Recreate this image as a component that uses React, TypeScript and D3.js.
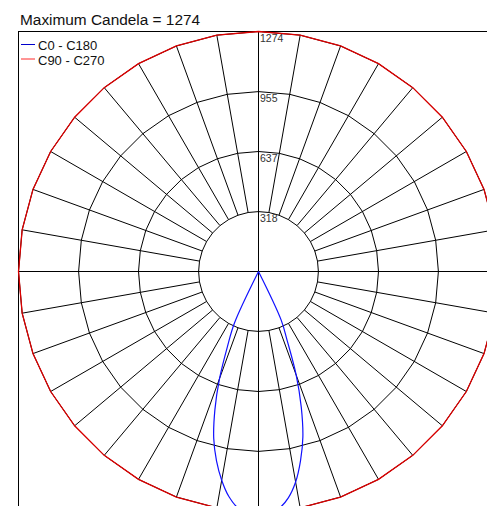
import React from "react";
import * as d3 from "d3";

const MAX_CANDELA = 1274;
const RING_TICKS = [318, 637, 955, 1274];

// C0 - C180 plane, gamma angles (deg from nadir), step 2.5
const GAMMA_C0 = [0, 2.5, 5, 7.5, 10, 12.5, 15, 17.5, 20, 22.5, 25, 27.5, 30, 32.5, 35, 37.5, 40];
const VALUES_C0 = [1274, 1269, 1260, 1212, 1135, 1030, 910, 755, 585, 400, 285, 0, 0, 0, 0, 0, 0];
const VALUES_C180 = [1274, 1269, 1258, 1205, 1125, 1030, 918, 770, 605, 430, 303, 0, 0, 0, 0, 0, 0];

// C90 - C270 plane, gamma angles step 10
const GAMMA_C90 = [0, 10, 20, 30, 40, 50, 60, 70, 80, 90, 100, 110, 120, 130, 140, 150, 160, 170, 180];
const VALUES_C90 = [1274, 1274, 1274, 1274, 1274, 1274, 1274, 1274, 1274, 1274, 1274, 1274, 1274, 1274, 1274, 1274, 1274, 1274, 1274];
const VALUES_C270 = [1274, 1274, 1274, 1274, 1274, 1274, 1274, 1274, 1274, 1274, 1274, 1274, 1274, 1274, 1274, 1274, 1274, 1274, 1274];

const LEGEND = ["C0 - C180", "C90 - C270"];
const TITLE = "Maximum Candela = 1274";

const W = 487;
const H = 506;
const CX = 258.5;
const CY = 271.5;
const R = 240;
const FONT = "'Liberation Sans', Arial, sans-serif";

export default function App() {
  const rScale = d3.scaleLinear().domain([0, MAX_CANDELA]).range([0, R]);
  const rad = (deg: number) => (deg * Math.PI) / 180;

  const radial = d3
    .lineRadial<[number, number]>()
    .angle((d) => d[0])
    .radius((d) => rScale(d[1]))
    .curve(d3.curveCatmullRom.alpha(0.5));
  const radialClosed = d3
    .lineRadial<[number, number]>()
    .angle((d) => d[0])
    .radius((d) => rScale(d[1]))
    .curve(d3.curveLinearClosed);

  const gridAngles = d3.range(0, 360, 10);

  // blue: right side C0 (from high gamma to 0), then left side C180
  const bluePts: [number, number][] = [];
  for (let i = GAMMA_C0.length - 1; i >= 0; i--) bluePts.push([Math.PI - rad(GAMMA_C0[i]), VALUES_C0[i]]);
  for (let i = 1; i < GAMMA_C0.length; i++) bluePts.push([Math.PI + rad(GAMMA_C0[i]), VALUES_C180[i]]);

  const redPts: [number, number][] = [];
  for (let i = GAMMA_C90.length - 1; i >= 0; i--) redPts.push([Math.PI - rad(GAMMA_C90[i]), VALUES_C90[i]]);
  for (let i = 1; i < GAMMA_C90.length - 1; i++) redPts.push([Math.PI + rad(GAMMA_C90[i]), VALUES_C270[i]]);

  const rInner = rScale(RING_TICKS[0]);
  const rOuter = rScale(MAX_CANDELA);

  return (
    <svg
      width={W}
      height={H}
      style={{ position: "absolute", left: 0, top: 0, background: "#fff" }}
    >
      <rect x={0} y={0} width={W} height={H} fill="#fff" />
      <text x={20} y={24.5} fontFamily={FONT} fontSize={15.4} fill="#111">
        {TITLE}
      </text>
      {/* frame */}
      <rect x={18.5} y={31.5} width={W + 20} height={H + 20} fill="none" stroke="#000" strokeWidth={1} />

      <g transform={`translate(${CX},${CY})`}>
        {/* rings */}
        {RING_TICKS.map((t) => (
          <path
            key={t}
            d={radialClosed(gridAngles.map((a) => [rad(a), t]) as [number, number][]) || ""}
            fill="none"
            stroke="#000"
            strokeWidth={1}
          />
        ))}
        {/* spokes */}
        {gridAngles
          .filter((a) => a % 90 !== 0)
          .map((a) => (
            <line
              key={a}
              x1={rInner * Math.sin(rad(a))}
              y1={-rInner * Math.cos(rad(a))}
              x2={rOuter * Math.sin(rad(a))}
              y2={-rOuter * Math.cos(rad(a))}
              stroke="#000"
              strokeWidth={1}
            />
          ))}
        {/* axes */}
        <line x1={0} y1={-rOuter} x2={0} y2={rOuter} stroke="#000" strokeWidth={1} />
        <line x1={-rOuter} y1={0} x2={rOuter} y2={0} stroke="#000" strokeWidth={1} />

        {/* series */}
        <path d={radialClosed(redPts) || ""} fill="none" stroke="#dd0000" strokeWidth={1.3} />
        <path d={radial(bluePts) || ""} fill="none" stroke="#1010ff" strokeWidth={1.2} />

        {/* ring labels */}
        {RING_TICKS.map((t) => (
          <text
            key={t}
            x={1.5}
            y={-rScale(t) + 10}
            fontFamily={FONT}
            fontSize={10.5}
            fill="#333"
          >
            {t}
          </text>
        ))}
      </g>

      {/* legend */}
      <line x1={21} x2={35} y1={44.5} y2={44.5} stroke="#0000cc" strokeWidth={1} />
      <text x={38} y={49.5} fontFamily={FONT} fontSize={13} fill="#111">
        {LEGEND[0]}
      </text>
      <line x1={21} x2={35} y1={59} y2={59} stroke="#ff2a2a" strokeWidth={1} />
      <text x={38} y={64.5} fontFamily={FONT} fontSize={13} fill="#111">
        {LEGEND[1]}
      </text>
    </svg>
  );
}
